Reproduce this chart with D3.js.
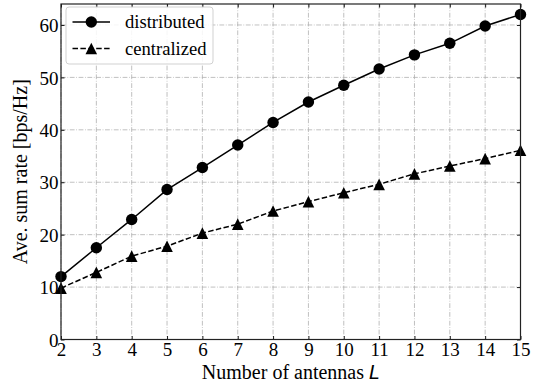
<!DOCTYPE html>
<html><head><meta charset="utf-8">
<script src="https://cdn.jsdelivr.net/npm/d3@7"></script>
<style>body{margin:0;background:#fff}svg{display:block}</style>
</head><body>
<svg id="c" width="543" height="386"></svg>
<script>
const antennas = [2,3,4,5,6,7,8,9,10,11,12,13,14,15];
const distributed = [12.0,17.5,22.9,28.6,32.8,37.1,41.4,45.3,48.5,51.6,54.3,56.5,59.8,62.0];
const centralized = [9.8,12.8,15.9,17.8,20.3,22.0,24.5,26.3,28.0,29.6,31.6,33.1,34.5,36.1];
const yTicks = [0,10,20,30,40,50,60];
const seriesNames = ["distributed","centralized"];

const svg = d3.select("#c");
const L = 61, R = 520.5, T = 4, B = 339.5;
const x = d3.scaleLinear().domain([2,15]).range([L,R]);
const y = d3.scaleLinear().domain([0,64]).range([B,T]);
const font = "'Liberation Serif','Times New Roman',serif";

// grid
const g = svg.append("g");
g.selectAll(".gx").data(antennas).join("line")
  .attr("x1",d=>x(d)).attr("x2",d=>x(d)).attr("y1",T).attr("y2",B)
  .attr("stroke","#b0b0b0").attr("stroke-width",0.8).attr("stroke-dasharray","4.8,1.6,0.8,1.6");
g.selectAll(".gy").data(yTicks).join("line")
  .attr("x1",L).attr("x2",R).attr("y1",d=>y(d)).attr("y2",d=>y(d))
  .attr("stroke","#b0b0b0").attr("stroke-width",0.8).attr("stroke-dasharray","4.8,1.6,0.8,1.6");

// axes with inward ticks
const xAxis = svg.append("g").attr("transform",`translate(0,${B})`)
  .call(d3.axisBottom(x).tickValues(antennas).tickSizeInner(-3.5).tickSizeOuter(0).tickPadding(3));
const xTop = svg.append("g").attr("transform",`translate(0,${T})`)
  .call(d3.axisTop(x).tickValues(antennas).tickSizeInner(-3.5).tickSizeOuter(0).tickFormat(""));
const yAxis = svg.append("g").attr("transform",`translate(${L},0)`)
  .call(d3.axisLeft(y).tickValues(yTicks).tickSizeInner(-3.5).tickSizeOuter(0).tickPadding(2.5));
const yRight = svg.append("g").attr("transform",`translate(${R},0)`)
  .call(d3.axisRight(y).tickValues(yTicks).tickSizeInner(-3.5).tickSizeOuter(0).tickFormat(""));
[xAxis,xTop,yAxis,yRight].forEach(a=>{
  a.select(".domain").remove();
  a.selectAll(".tick line").attr("stroke","#000").attr("stroke-width",0.9);
  a.selectAll("text").attr("font-family",font).attr("font-size",19).attr("fill","#000");
});
xAxis.selectAll("text").attr("dy","0.71em");
yAxis.selectAll("text").attr("dy","0.35em");

// lines
const line = d3.line().x((d,i)=>x(antennas[i])).y(d=>y(d));
svg.append("path").datum(distributed).attr("d",line).attr("fill","none").attr("stroke","#000").attr("stroke-width",1.5);
svg.append("path").datum(centralized).attr("d",line).attr("fill","none").attr("stroke","#000").attr("stroke-width",1.5).attr("stroke-dasharray","5.5,2.4");

const circ = d3.symbol().type(d3.symbolCircle).size(Math.PI*5.7*5.7);
const tri = s => `M0,${-s}L${s},${s}L${-s},${s}Z`;
svg.append("g").selectAll("path").data(distributed).join("path")
  .attr("d",circ).attr("transform",(d,i)=>`translate(${x(antennas[i])},${y(d)})`).attr("fill","#000");
svg.append("g").selectAll("path").data(centralized).join("path")
  .attr("d",tri(5.8)).attr("transform",(d,i)=>`translate(${x(antennas[i])},${y(d)})`).attr("fill","#000");

// frame
svg.append("rect").attr("x",L).attr("y",T).attr("width",R-L).attr("height",B-T)
  .attr("fill","none").attr("stroke","#222").attr("stroke-width",1.2);

// labels
svg.append("text").attr("x",(L+R)/2).attr("y",379).attr("text-anchor","middle")
  .attr("font-family",font).attr("font-size",20).attr("fill","#000")
  .text("Number of antennas ")
  .append("tspan").attr("font-family","'DejaVu Sans',sans-serif").attr("font-style","italic").attr("font-size",19).text("L");
svg.append("text").attr("transform",`translate(27,${(T+B)/2}) rotate(-90)`).attr("text-anchor","middle")
  .attr("font-family",font).attr("font-size",20).attr("fill","#000").text("Ave. sum rate [bps/Hz]");

// legend
const lg = svg.append("g");
lg.append("rect").attr("x",66).attr("y",7).attr("width",147).attr("height",57).attr("rx",3)
  .attr("fill","#fff").attr("fill-opacity",0.85).attr("stroke","#ccc").attr("stroke-width",0.9);
const rows = [22, 48.5];
seriesNames.forEach((n,i)=>{
  lg.append("line").attr("x1",72.5).attr("x2",110).attr("y1",rows[i]).attr("y2",rows[i])
    .attr("stroke","#000").attr("stroke-width",1.5).attr("stroke-dasharray",i? "5.5,2.4":null);
  if(i===0) lg.append("path").attr("d",circ).attr("transform",`translate(91.3,${rows[i]})`).attr("fill","#000");
  else lg.append("path").attr("d",tri(5.8)).attr("transform",`translate(91.3,${rows[i]})`).attr("fill","#000");
  lg.append("text").attr("x",125).attr("y",rows[i]).attr("dy","0.33em")
    .attr("font-family",font).attr("font-size",18.6).attr("fill","#000").text(n);
});
</script>
</body></html>
